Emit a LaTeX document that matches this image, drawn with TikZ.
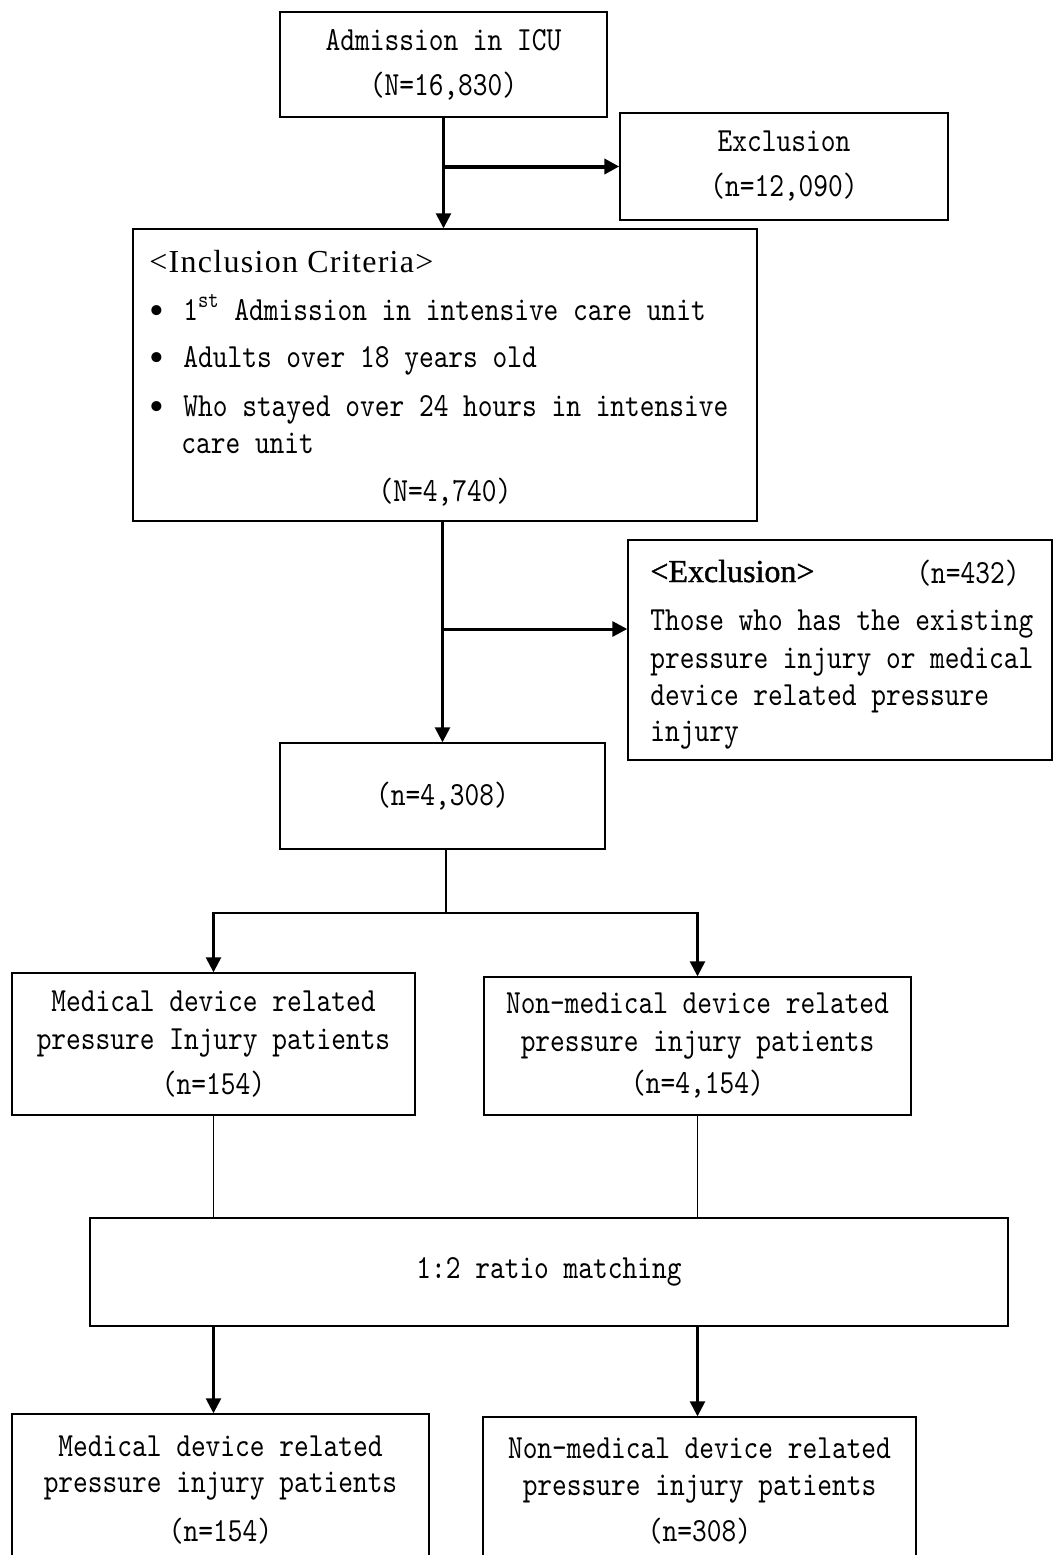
\documentclass[tikz,border=0pt]{standalone}
\usepackage{fontspec}
\newfontfamily\bodyfont[FakeStretch=0.83]{lmmono10-regular.otf}
\newfontfamily\headfont[LetterSpace=4]{Liberation Serif}
\newfontfamily\headboldfont[FakeBold=1.2]{Liberation Serif}
\usetikzlibrary{arrows.meta}

\newcommand{\bodytext}{\bodyfont\fontsize{16.9}{19}\selectfont}
\newcommand{\headtext}{\headfont\fontsize{16}{19}\selectfont}

\tikzset{
  box/.style={draw, line width=0.7pt, inner sep=0pt, align=center, font=\bodytext},
  txt/.style={inner sep=0pt, font=\bodytext},
  head/.style={inner sep=0pt, font=\headtext},
  flow/.style={line width=1.3pt, -{Triangle[length=7.5pt,width=7.5pt]}},
  link/.style={line width=0.7pt}
}

\begin{document}
\begin{tikzpicture}[x=0.5pt, y=-0.5pt]
\useasboundingbox[fill=white] (0,0) rectangle (1054,1555);

% admission and first exclusion
\node[box, minimum width=163.5pt, minimum height=52.5pt] (adm) at (443.5,64.5) {Admission in ICU\\[3.5pt](N=16,830)};
\node[box, minimum width=164pt, minimum height=53.5pt] (exca) at (784,166.5) {Exclusion\\[3.5pt](n=12,090)};

% inclusion criteria
\node[box, minimum width=312pt, minimum height=146pt] (incl) at (445,375) {};
\node[head, anchor=base west] (inclhead) at (149,272) {<Inclusion Criteria>};
\foreach \n/\y/\txt in {1/320/{1\textsuperscript{st} Admission in intensive care unit},
                        2/367/{Adults over 18 years old},
                        3/416/{Who stayed over 24 hours in intensive}}{
  \node[head, font=\headfont\fontsize{21}{21}\selectfont, anchor=base] (dot\n) at (157,\y+4) {•};
  \node[txt, anchor=base west] (crit\n) at (183,\y) {\txt};
}
\node[txt, anchor=base west] (crit3b) at (181,453) {care unit};
\node[txt, anchor=base] (incln) at (445,501) {(N=4,740)};

% second exclusion
\node[box, minimum width=212pt, minimum height=110pt] (excb) at (840,650) {};
\node[head, font=\headboldfont\fontsize{16}{19}\selectfont, anchor=base west] (excbhead) at (650,582) {<Exclusion>};
\node[txt, anchor=base east] (excbn) at (1020,583) {(n=432)};
\foreach \n/\y/\txt in {1/630/{Those who has the existing},
                        2/668/{pressure injury or medical},
                        3/705/{device related pressure},
                        4/741/{injury}}{
  \node[txt, anchor=base west] (excbline\n) at (650,\y) {\txt};
}

% remaining population and groups
\node[box, minimum width=162.5pt, minimum height=53pt] (pop) at (442.5,796) {(n=4,308)};
\node[box, minimum width=201.5pt, minimum height=71pt] (med) at (213.5,1044) {Medical device related\\pressure Injury patients\\[3.5pt](n=154)};
\node[box, minimum width=213.5pt, minimum height=69pt] (nonmed) at (697.5,1046) {Non-medical device related\\pressure injury patients\\[2pt](n=4,154)};
\node[box, minimum width=459pt, minimum height=54pt] (match) at (549,1272) {1:2 ratio matching};
\node[box, minimum width=208.5pt, minimum height=76pt] (botl) at (220.5,1490) {Medical device related\\[-1pt]pressure injury patients\\[5.5pt](n=154)};
\node[box, minimum width=216.5pt, minimum height=74.5pt] (botr) at (699.5,1491.5) {Non-medical device related\\[-0.5pt]pressure injury patients\\[4pt](n=308)};

% connectors
\draw[flow] (adm.south) -- (adm.south |- incl.north);
\draw[flow, line width=2pt] (adm.south |- exca.west) -- (exca.west);

\coordinate (excbin) at ([yshift=10.5pt]excb.west);
\draw[flow] (pop.north |- incl.south) -- (pop.north);
\draw[flow, line width=1.5pt] (pop.north |- excbin) -- (excbin);

\coordinate (split) at (446,913);
\draw[line width=1.3pt] (pop.south -| split) -- (split);
\draw[flow] (split) -| (med.north);
\draw[flow] (split) -| (nonmed.north);

\draw[link] (med.south) -- (med.south |- match.north);
\draw[link] (nonmed.south) -- (nonmed.south |- match.north);
\draw[flow] (med.south |- match.south) -- (med.south |- botl.north);
\draw[flow] (nonmed.south |- match.south) -- (nonmed.south |- botr.north);
\end{tikzpicture}
\end{document}
